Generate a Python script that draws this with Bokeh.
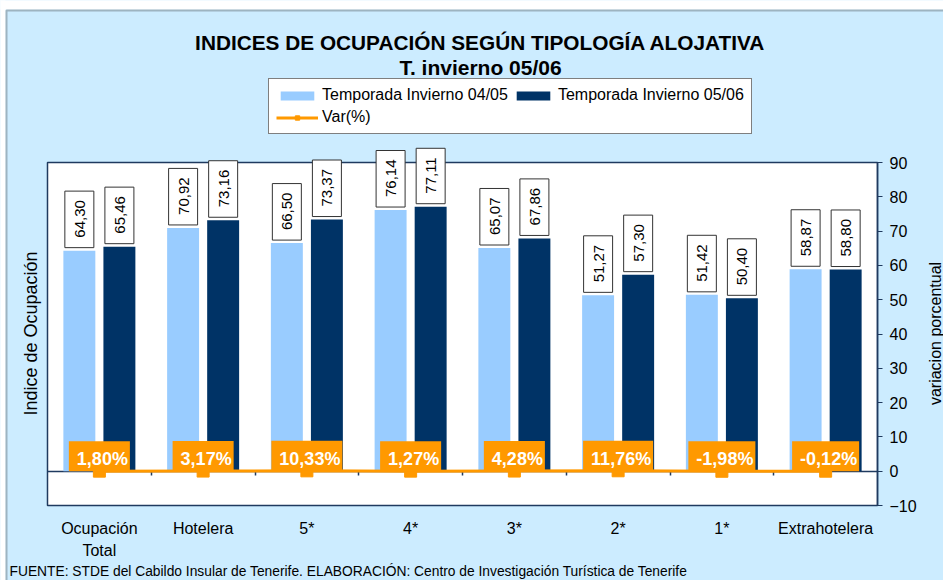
from bokeh.plotting import figure
from bokeh.models import (Range1d, LinearAxis, FixedTicker, Label, Legend, LegendItem,
                          BoxAnnotation)
from bokeh.embed import file_html
from bokeh.resources import INLINE

# ---------------- data ----------------
categories = ["Ocupación\nTotal", "Hotelera", "5*", "4*", "3*", "2*", "1*", "Extrahotelera"]
temporada_0405 = [64.30, 70.92, 66.50, 76.14, 65.07, 51.27, 51.42, 58.87]
temporada_0506 = [65.46, 73.16, 73.37, 77.11, 67.86, 57.30, 50.40, 58.80]
var_pct = [1.80, 3.17, 10.33, 1.27, 4.28, 11.76, -1.98, -0.12]
y_ticks = [-10, 0, 10, 20, 30, 40, 50, 60, 70, 80, 90]

title_text = "INDICES DE OCUPACIÓN SEGÚN TIPOLOGÍA ALOJATIVA"
subtitle_text = "T. invierno 05/06"
series_names = ["Temporada Invierno 04/05", "Temporada Invierno 05/06", "Var(%)"]
left_label = "Indice de Ocupación"
right_label = "variacion porcentual"
source_text = ("FUENTE: STDE del Cabildo Insular de Tenerife. ELABORACIÓN: "
               "Centro de Investigación Turística de Tenerife")

# ---------------- style / layout ----------------
FONT = "Liberation Sans"
LIGHT = "#99CCFF"
DARK = "#003366"
ORANGE = "#FF9900"
BG = "#CCECFF"
NAVY = "#1F3A5F"

W, H = 943, 580
# plot-area box in canvas pixels
PA_L, PA_R, PA_T, PA_B = 47, 877, 162, 505

n = len(categories)
idx = list(range(n))
x_lo, x_hi = -0.5, n - 0.5
y_lo, y_hi = y_ticks[0], y_ticks[-1]
px_x = (PA_R - PA_L) / (x_hi - x_lo)
px_y = (PA_B - PA_T) / (y_hi - y_lo)
x_range = Range1d(x_lo - PA_L / px_x, x_hi + (W - PA_R) / px_x)
y_range = Range1d(y_lo - (H - PA_B) / px_y, y_hi + PA_T / px_y)

dodge = 0.193
bar_w = 0.308
x_light = [i - dodge for i in idx]
x_dark = [i + dodge for i in idx]

p = figure(width=W, height=H, x_range=x_range, y_range=y_range,
           output_backend="svg", toolbar_location=None,
           x_axis_location=None, y_axis_location=None, min_border=0)
p.grid.visible = False
p.background_fill_color = BG
p.border_fill_color = "white"
p.outline_line_color = None

# white page strips and dark outer frame of the chart
p.add_layout(BoxAnnotation(left=-20, right=W + 20, bottom=H - 9, top=H + 20,
                           left_units="screen", right_units="screen",
                           bottom_units="screen", top_units="screen",
                           fill_color="white", fill_alpha=1, line_color=None,
                           level="underlay"))
p.add_layout(BoxAnnotation(left=-20, right=5, bottom=-20, top=H + 20,
                           left_units="screen", right_units="screen",
                           bottom_units="screen", top_units="screen",
                           fill_color="white", fill_alpha=1, line_color=None,
                           level="underlay"))
p.add_layout(BoxAnnotation(left=6, right=W + 20, bottom=-20, top=H - 10,
                           left_units="screen", right_units="screen",
                           bottom_units="screen", top_units="screen",
                           fill_alpha=0, line_color="#333333", line_width=2,
                           level="underlay"))
# plot area
p.quad(left=[x_lo], right=[x_hi], bottom=[y_lo], top=[y_hi],
       fill_color="white", line_color=NAVY, line_width=1.5, level="underlay")

# zero line with separators between categories (below the glyphs)
zaxis = LinearAxis(ticker=FixedTicker(ticks=[i + 0.5 for i in idx[:-1]]), fixed_location=0,
                   bounds=(x_lo, x_hi))
zaxis.axis_line_color = NAVY
zaxis.axis_line_width = 1.5
zaxis.major_tick_line_color = NAVY
zaxis.major_tick_line_width = 1.5
zaxis.major_tick_out = 4
zaxis.major_tick_in = 0
zaxis.minor_tick_line_color = None
zaxis.major_label_text_color = None
zaxis.level = "underlay"
p.add_layout(zaxis, "below")

r_light = p.vbar(x=x_light, top=temporada_0405, bottom=0, width=bar_w,
                 fill_color=LIGHT, line_color=None)
r_dark = p.vbar(x=x_dark, top=temporada_0506, bottom=0, width=bar_w,
                fill_color=DARK, line_color=None)

var_y = [v / 100 for v in var_pct]
r_line = p.line(idx, var_y, line_color=ORANGE, line_width=3)
r_mark = p.scatter(idx, var_y, marker="square", size=12, fill_color=ORANGE, line_color=ORANGE)

# value labels above bars
for xs, vals in ((x_light, temporada_0405), (x_dark, temporada_0506)):
    for xv, v in zip(xs, vals):
        p.add_layout(Label(x=xv, y=v, text=f"{v:.2f}".replace(".", ","),
                           angle=90, angle_units="deg",
                           text_font=FONT, text_font_size="15px", text_color="black",
                           text_align="left", text_baseline="middle",
                           background_fill_color="white", border_line_color="#333333",
                           border_line_width=1, padding=(10, 9, 10, 9), y_offset=3))

# variation labels
for xv, yv, v in zip(idx, var_y, var_pct):
    p.add_layout(Label(x=xv, y=yv, text=f"{v:.2f}%".replace(".", ","),
                       text_font=FONT, text_font_size="18px", text_font_style="bold",
                       text_color="white", text_align="center", text_baseline="middle",
                       background_fill_color=ORANGE, padding=(8, 2, 8, 2), y_offset=15))

# category axis under the plot area
xaxis = LinearAxis(ticker=FixedTicker(ticks=idx), fixed_location=y_lo,
                   major_label_overrides={i: c for i, c in zip(idx, categories)})
xaxis.axis_line_color = None
xaxis.major_tick_line_color = None
xaxis.minor_tick_line_color = None
xaxis.major_label_standoff = 8
xaxis.major_label_text_font = FONT
xaxis.major_label_text_font_size = "16px"
xaxis.major_label_text_color = "black"
xaxis.major_label_text_line_height = 1.35
p.add_layout(xaxis, "below")

# right value axis
yaxis = LinearAxis(ticker=FixedTicker(ticks=y_ticks), fixed_location=x_hi, bounds=(y_lo, y_hi))
yaxis.axis_line_color = NAVY
yaxis.axis_line_width = 1.5
yaxis.major_tick_line_color = NAVY
yaxis.major_tick_out = 5
yaxis.major_tick_in = 0
yaxis.minor_tick_line_color = None
yaxis.major_label_standoff = 7
yaxis.major_label_text_font = FONT
yaxis.major_label_text_font_size = "16px"
yaxis.major_label_text_color = "black"
p.add_layout(yaxis, "right")

# titles and other texts (screen units, origin at bottom-left of canvas)
def screen_label(ax, ay, text, **kw):
    return Label(x=ax, y=H - ay, x_units="screen", y_units="screen", text=text,
                 text_font=FONT, text_color="black", text_baseline="middle", **kw)

p.add_layout(screen_label(480, 42, title_text, text_font_size="20.8px",
                          text_font_style="bold", text_align="center"))
p.add_layout(screen_label(480, 67, subtitle_text, text_font_size="21px",
                          text_font_style="bold", text_align="center"))
p.add_layout(screen_label(30, 333, left_label, text_font_size="18px", text_align="center",
                          angle=90, angle_units="deg"))
p.add_layout(screen_label(935, 333, right_label, text_font_size="16px", text_align="center",
                          angle=90, angle_units="deg"))
p.add_layout(screen_label(9, 571, source_text, text_font_size="13.8px", text_align="left"))

legend = Legend(items=[LegendItem(label=series_names[0], renderers=[r_light]),
                       LegendItem(label=series_names[1], renderers=[r_dark]),
                       LegendItem(label=series_names[2], renderers=[r_line, r_mark])],
                location=(268, H - 134), orientation="horizontal", ncols=2)
legend.label_text_font = FONT
legend.label_text_font_size = "16px"
legend.label_text_color = "black"
legend.glyph_width = 42
legend.glyph_height = 11
legend.label_height = 17
legend.label_standoff = 4
legend.spacing = 4
legend.padding = 7
legend.border_line_color = "black"
legend.border_line_width = 1
legend.background_fill_color = "white"
legend.background_fill_alpha = 1
p.add_layout(legend, "center")

open("out.html", "w").write(file_html(p, INLINE))
